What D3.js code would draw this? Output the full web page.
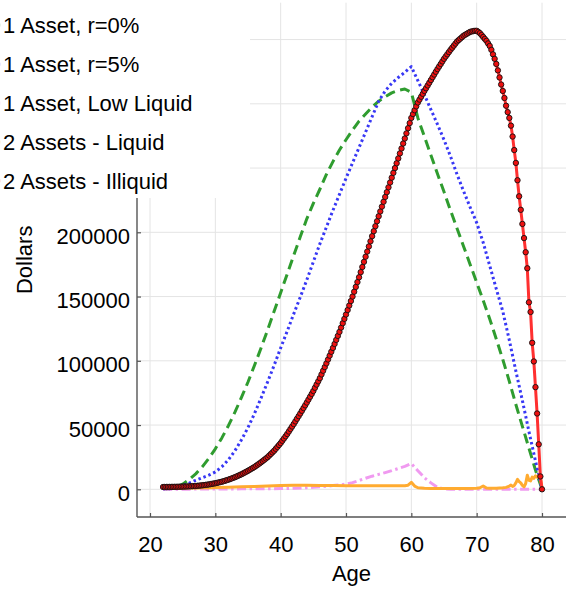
<!DOCTYPE html>
<html>
<head>
<meta charset="utf-8">
<script src="https://cdn.jsdelivr.net/npm/d3@7"></script>
<style>
  html, body { margin: 0; padding: 0; background: #fff; }
  svg { display: block; }
  text { font-family: "Liberation Sans", Arial, Helvetica, sans-serif; fill: #000; }
</style>
</head>
<body>
<svg id="chart" width="569" height="591"></svg>
<script>
// ---------------- data ----------------
const seriesNames = ["1 Asset, r=0%", "1 Asset, r=5%", "1 Asset, Low Liquid", "2 Assets - Liquid", "2 Assets - Illiquid"];

const xTicks = [20, 30, 40, 50, 60, 70, 80];
const yTicks = [0, 50000, 100000, 150000, 200000];
const yGrid = [0, 50000, 100000, 150000, 200000, 250000, 300000, 350000];

// yearly ages 22..80
const yearAges = [22,23,24,25,26,27,28,29,30,31,32,33,34,35,36,37,38,39,40,41,42,43,44,45,46,47,48,49,50,
  51,52,53,54,55,56,57,58,59,60,61,62,63,64,65,66,67,68,69,70,71,72,73,74,75,76,77,78,79,80];

// 1 Asset, r=0% (green dashed)
const r0Values = [0,300,1500,4000,7500,12000,17500,24000,31500,40000,49500,60000,71500,83500,96500,110000,
  124000,138500,153000,167500,182000,196500,210500,222500,233500,245000,255000,264000,272000,279500,286500,
  292000,297500,302000,305500,308500,310500,311500,309000,289000,274500,260000,245500,231500,217000,203000,
  189000,175000,161000,147000,132500,117000,101000,84000,66000,49000,32000,15000,0];

// 1 Asset, r=5% (blue dotted)
const r5Values = [0,400,1200,2800,4800,7000,9000,11000,13500,17500,23000,30000,38500,48000,59000,71000,
  83500,96500,110000,123000,136500,149500,163000,177000,191000,204000,217000,229500,242000,254000,266000,
  278000,290000,302000,310000,316000,320500,324500,329000,318000,307000,295500,284000,272000,259000,245000,
  232000,219500,207500,192000,174000,156000,138500,116000,92000,69000,45000,22000,0];

// 1 Asset, Low Liquid (pink dash-dot)
const lowLiqValues = [0,0,50,100,100,150,200,200,250,250,300,300,350,350,400,400,450,500,550,650,800,1000,
  1300,1600,2000,2400,2900,3400,4000,5200,6800,8600,10200,11600,13000,14500,16200,17800,20000,14500,9000,
  5000,1500,300,100,0,0,0,0,0,0,0,0,0,0,0,0,0,0];

// 2 Assets - Liquid (orange)
const liquidAges = [22,23,24,25,26,27,28,29,30,32,34,36,38,40,42,44,46,48,50,52,54,56,58,59,59.5,60,60.5,61,
  62,63,64,66,68,70,70.5,71,71.5,72,73,74,74.5,75,75.25,75.5,75.75,76,76.25,76.5,76.75,77,77.25,77.5,77.75,
  78,78.25,78.5,78.75,79,79.25,79.5,79.75,80];
const liquidValues = [600,700,800,900,1000,1100,1200,1300,1400,1600,1900,2200,2600,3000,3200,3100,3000,2900,
  2800,2700,2700,2700,2700,2800,3200,5400,2500,1200,800,600,600,700,700,800,1200,2600,1000,800,900,1200,1500,
  2500,3300,2200,3000,5000,7800,6000,5000,3000,2000,4500,11000,7000,6500,9500,8500,10500,9500,10800,9000,1500];

// 2 Assets - Illiquid (red with markers), quarterly ages 22..80
const quarterAges = d3.range(22, 80.0001, 0.25);
const illiquidValues = [
  1800,1810,1820,1835, 1850,1870,1895,1920, 1950,1985,2020,2060, 2100,2150,2200,2250,
  2300,2370,2450,2520, 2600,2720,2850,2980, 3100,3270,3450,3620, 3800,4020,4250,4470,
  4700,5000,5300,5600, 5900,6300,6700,7100, 7500,7970,8450,8920, 9400,9970,10550,11120,
  11700,12370,13050,13720, 14400,15150,15900,16650, 17400,18300,19200,20100, 21000,22000,23000,24000,
  25000,26250,27500,28750, 30000,31500,33000,34500, 36000,37750,39500,41250, 43000,44950,46900,48850,
  50800,52850,54900,56950, 59000,61100,63250,65350, 67500,69750,72000,74250, 76500,79000,81500,84000,
  86500,89400,92250,95100, 98000,101000,104000,107000, 110000,113100,116250,119350, 122500,125850,129250,132600,
  136000,139500,143000,146500, 150000,153750,157500,161250, 165000,169000,173000,177000, 181000,185000,189000,193000,
  197000,200900,204750,208600, 212500,216250,220000,223750, 227500,231250,235000,238750, 242500,246250,250000,253750,
  257500,261400,265250,269100, 273000,277000,281000,285000, 289000,292000,295000,298000, 301000,303250,305500,307750,
  310000,312100,314250,316350, 318500,320650,322750,324900, 327000,329000,331000,333000, 335000,336750,338500,340250,
  342000,343600,345250,346850, 348500,349600,350750,351850, 353000,353750,354500,355250, 356000,356300,356600,356800,
  356800,356000,355000,353500, 352000,350500,349000,347000, 345000,342000,338500,335000, 331000,326000,320500,315000,
  310000,304500,298500,293500, 289000,283000,274500,264000, 254000,240500,228000,217500, 206500,195500,184500,172000,
  145500,138000,114000,99500, 79500,59000,35000,10000, 0];

// ---------------- layout ----------------
const svg = d3.select("#chart");
const plot = { left: 137, right: 566, top: 2.7, bottom: 517 };

const x = d3.scaleLinear().domain([20, 80]).range([150, 542]);
const y = d3.scaleLinear().domain([0, 350000]).range([489.3, 39.55]);

// grid
const grid = svg.append("g").attr("stroke", "#e4e4e4").attr("stroke-width", 1);
grid.selectAll("line.v").data(xTicks).join("line")
  .attr("x1", d => x(d)).attr("x2", d => x(d))
  .attr("y1", plot.top).attr("y2", plot.bottom);
grid.selectAll("line.h").data(yGrid).join("line")
  .attr("x1", plot.left).attr("x2", plot.right)
  .attr("y1", d => y(d)).attr("y2", d => y(d));

// axes
const xAxis = d3.axisBottom(x).tickValues(xTicks).tickSize(-4).tickPadding(0).tickFormat(d3.format("d"));
const gx = svg.append("g").attr("transform", `translate(0,${plot.bottom})`).call(xAxis);
gx.select(".domain").attr("d", `M${plot.left},0H${plot.right}`).attr("stroke", "#555").attr("stroke-width", 1.4);
gx.selectAll(".tick line").attr("stroke", "#555").attr("stroke-width", 1.2);
gx.selectAll(".tick text").attr("y", 35).attr("dy", null).attr("font-size", 22)
  .style("font-family", "'Liberation Sans', Arial, Helvetica, sans-serif").attr("fill", "#000");

const yAxis = d3.axisLeft(y).tickValues(yTicks).tickSize(-4).tickPadding(0).tickFormat(d3.format("d"));
const gy = svg.append("g").attr("transform", `translate(${plot.left},0)`).call(yAxis);
gy.select(".domain").attr("d", `M0,${plot.top}V${plot.bottom}`).attr("stroke", "#555").attr("stroke-width", 1.4);
gy.selectAll(".tick line").attr("stroke", "#555").attr("stroke-width", 1.2);
gy.selectAll(".tick text").attr("x", -7).attr("dy", null).attr("y", 11).attr("font-size", 22)
  .style("font-family", "'Liberation Sans', Arial, Helvetica, sans-serif").attr("fill", "#000");

// axis titles
svg.append("text").attr("x", (plot.left + plot.right) / 2).attr("y", 581)
  .attr("text-anchor", "middle").attr("font-size", 22).text("Age");
svg.append("text").attr("transform", `translate(31.5,${(plot.top + plot.bottom) / 2}) rotate(-90)`)
  .attr("text-anchor", "middle").attr("font-size", 22).text("Dollars");

// series
const styles = [
  { color: "#2f9c2f", width: 3, dash: "10,5.5" },
  { color: "#3838f5", width: 3, dash: "2.5,2.8" },
  { color: "#f09af0", width: 3, dash: "9,3.5,2.5,3.5" },
  { color: "#ffab30", width: 3, dash: null },
  { color: "#ff3030", width: 3, dash: null }
];
const seriesData = [
  d3.zip(yearAges, r0Values),
  d3.zip(yearAges, r5Values),
  d3.zip(yearAges, lowLiqValues),
  d3.zip(liquidAges, liquidValues),
  d3.zip(quarterAges, illiquidValues)
];
const line = d3.line().x(d => x(d[0])).y(d => y(d[1]));
const gs = svg.append("g");
seriesData.forEach((data, i) => {
  const s = styles[i];
  gs.append("path").datum(data).attr("d", line)
    .attr("fill", "none").attr("stroke", s.color).attr("stroke-width", s.width)
    .attr("stroke-linejoin", "round")
    .attr("stroke-dasharray", s.dash);
});
gs.append("g").selectAll("circle").data(seriesData[4]).join("circle")
  .attr("cx", d => x(d[0])).attr("cy", d => y(d[1])).attr("r", 2.7)
  .attr("fill", "#ee1010").attr("stroke", "#111").attr("stroke-width", 0.9);

// legend (box overlapping top-left, samples outside the canvas)
const lg = svg.append("g");
lg.append("rect").attr("x", -60).attr("y", -2).attr("width", 310).attr("height", 200).attr("fill", "#fff");
const rowBase = [33, 72.3, 111, 150, 188.7];
seriesNames.forEach((name, i) => {
  const s = styles[i];
  lg.append("line").attr("x1", -40).attr("x2", 0.2)
    .attr("y1", rowBase[i] - 8).attr("y2", rowBase[i] - 8)
    .attr("stroke", s.color).attr("stroke-width", s.width).attr("stroke-opacity", 0.5);
  lg.append("text").attr("x", 3).attr("y", rowBase[i]).attr("font-size", 22).text(name);
});
</script>
</body>
</html>
